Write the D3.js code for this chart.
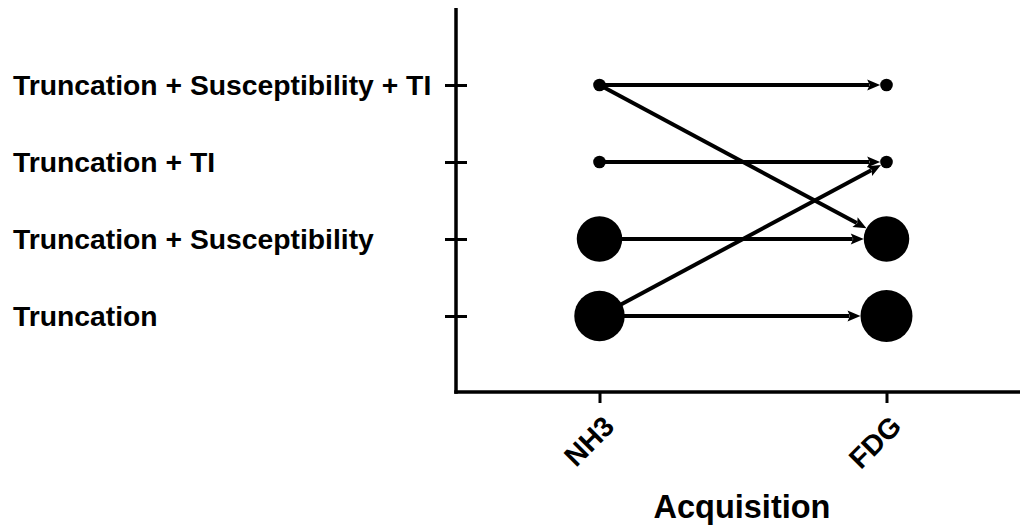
<!DOCTYPE html>
<html><head><meta charset="utf-8">
<script src="https://cdn.jsdelivr.net/npm/d3@7"></script>
<style>body{margin:0;background:#fff}svg{display:block}text{font-family:"Liberation Sans",Arial,sans-serif;font-weight:bold;fill:#000}</style>
</head><body><svg id="c" width="1020" height="527"></svg>
<script>
const categories = ["Truncation", "Truncation + Susceptibility", "Truncation + TI", "Truncation + Susceptibility + TI"];
const acquisitions = ["NH3", "FDG"];
const countsNH3 = [16, 13, 1, 1];
const countsFDG = [17, 13, 1, 1];
const transitionsFrom = ["Truncation + Susceptibility + TI", "Truncation + Susceptibility + TI", "Truncation + TI", "Truncation + Susceptibility", "Truncation", "Truncation"];
const transitionsTo   = ["Truncation + Susceptibility + TI", "Truncation + Susceptibility", "Truncation + TI", "Truncation + Susceptibility", "Truncation", "Truncation + TI"];
const xTitle = "Acquisition";

const svg = d3.select("#c");
const axX = 456, axY = 392;
const y = d3.scalePoint().domain(categories).range([393, 8]).padding(1);
const x = d3.scalePoint().domain(acquisitions).range([456, 1030]).padding(0.5);
const r = d3.scaleSqrt().domain([0, 17]).range([0, 26]);
const ff = "Liberation Sans, Arial, sans-serif";

// y axis
const gy = svg.append("g").attr("transform", `translate(${axX},0)`)
  .call(d3.axisLeft(y).tickSizeOuter(0).tickSize(11));
gy.select(".domain").attr("stroke-width", 3.5).attr("d", `M0,8V${axY+1.75}`);
gy.selectAll(".tick line").attr("x1", 11).attr("x2", -11).attr("stroke-width", 3);
gy.selectAll(".tick text").attr("x", 13 - axX).attr("text-anchor", "start")
  .attr("font-size", 28.3).attr("dy", "0.35em").style("font-family", ff).style("font-weight", "bold");

// x axis
const gx = svg.append("g").attr("transform", `translate(0,${axY})`)
  .call(d3.axisBottom(x).tickSizeOuter(0).tickSize(11));
gx.select(".domain").attr("stroke-width", 3.5).attr("d", `M${axX-1.75},0H1020`);
gx.selectAll(".tick line").attr("stroke-width", 3);
gx.selectAll(".tick text").attr("font-size", 28.3).attr("text-anchor", "end")
  .attr("y", 0).attr("dy", 0)
  .attr("transform", "translate(16,36) rotate(-45)")
  .style("font-family", ff).style("font-weight", "bold");

svg.append("text").attr("x", 742).attr("y", 518).attr("text-anchor", "middle")
  .attr("font-size", 32.5).text(xTitle);

// circles
const nodes = [];
categories.forEach((c, i) => {
  nodes.push({acq: "NH3", cat: c, v: countsNH3[i]});
  nodes.push({acq: "FDG", cat: c, v: countsFDG[i]});
});
const fdgR = c => r(countsFDG[categories.indexOf(c)]);

// arrows
const head = 13, hw = 5.5;
transitionsFrom.forEach((f, i) => {
  const t = transitionsTo[i];
  const x0 = x("NH3"), y0 = y(f), x1 = x("FDG"), y1 = y(t);
  const dx = x1 - x0, dy = y1 - y0, L = Math.hypot(dx, dy);
  const ux = dx / L, uy = dy / L;
  const rt = fdgR(t);
  const tx = x1 - ux * rt, ty = y1 - uy * rt;
  const bx = tx - ux * head, by = ty - uy * head;
  svg.append("line").attr("x1", x0).attr("y1", y0).attr("x2", bx + ux * 2).attr("y2", by + uy * 2)
    .attr("stroke", "#000").attr("stroke-width", 4);
  svg.append("path").attr("d", `M${tx},${ty}L${bx - uy * hw},${by + ux * hw}L${bx + ux*2.5},${by + uy*2.5}L${bx + uy * hw},${by - ux * hw}Z`)
    .attr("fill", "#000");
});

svg.append("g").selectAll("circle").data(nodes).join("circle")
  .attr("cx", d => x(d.acq)).attr("cy", d => y(d.cat)).attr("r", d => r(d.v)).attr("fill", "#000");
</script></body></html>
